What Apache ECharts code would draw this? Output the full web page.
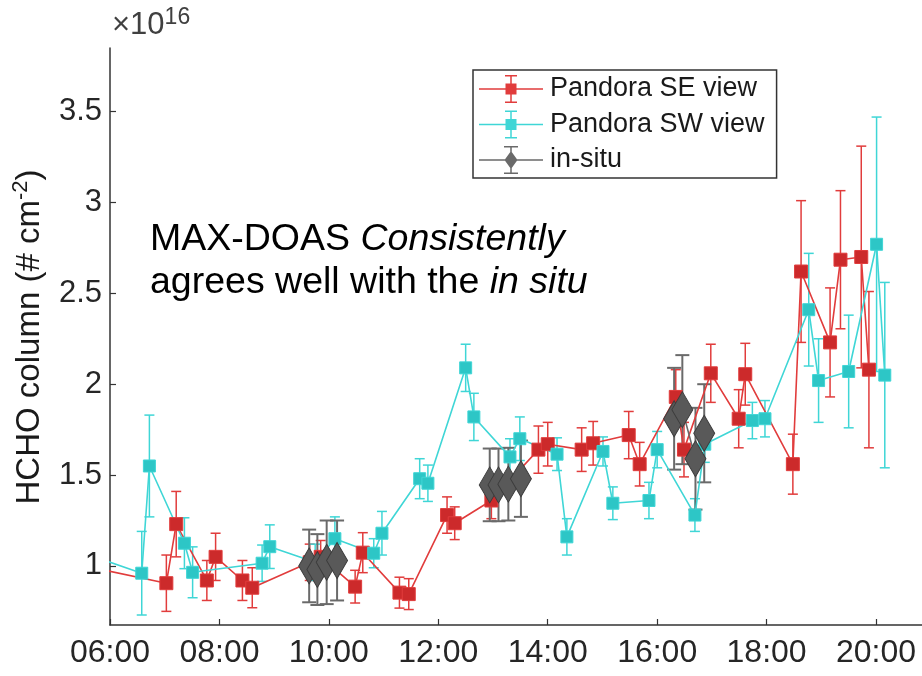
<!DOCTYPE html>
<html>
<head>
<meta charset="utf-8">
<title>HCHO column</title>
<script src="https://cdn.jsdelivr.net/npm/echarts@6/dist/echarts.min.js"></script>
<style>
  html, body { margin: 0; padding: 0; background: #fff; }
  #chart { width: 922px; height: 676px; }
</style>
</head>
<body>
<div id="chart"></div>
<script>
// time in decimal hours, HCHO column in 1e16 molec cm-2
const seTime  = [5.75, 7.03, 7.21, 7.77, 7.93, 8.42, 8.60, 9.65, 9.85, 10.48, 10.62, 11.29, 11.46, 12.16, 12.30, 12.97, 13.83, 14.00, 14.62, 14.83, 15.48, 15.68, 16.34, 16.49, 16.98, 17.49, 17.61, 18.48, 18.63, 19.16, 19.35, 19.73, 19.87];
const seValue = [0.986, 0.905, 1.23, 0.92, 1.05, 0.92, 0.88, 1.02, 1.05, 0.886, 1.073, 0.853, 0.845, 1.28, 1.235, 1.36, 1.64, 1.67, 1.64, 1.675, 1.72, 1.56, 1.93, 1.64, 2.06, 1.81, 2.055, 1.56, 2.62, 2.23, 2.685, 2.70, 2.08];
const seErr   = [0, 0.155, 0.18, 0.11, 0.13, 0.11, 0.11, 0.10, 0.09, 0.09, 0.11, 0.085, 0.085, 0.10, 0.09, 0.10, 0.13, 0.12, 0.12, 0.12, 0.13, 0.12, 0.15, 0.15, 0.16, 0.16, 0.17, 0.165, 0.39, 0.30, 0.38, 0.61, 0.43];

const swTime  = [5.75, 6.58, 6.72, 7.36, 7.51, 8.78, 8.92, 9.75, 10.11, 10.82, 10.97, 11.66, 11.81, 12.50, 12.65, 13.31, 13.49, 14.17, 14.35, 15.01, 15.19, 15.85, 16.00, 16.69, 16.87, 17.74, 17.97, 18.77, 18.95, 19.50, 20.01, 20.16];
const swValue = [1.046, 0.96, 1.55, 1.125, 0.965, 1.015, 1.106, 1.02, 1.15, 1.07, 1.18, 1.48, 1.455, 2.09, 1.82, 1.60, 1.70, 1.615, 1.16, 1.63, 1.345, 1.36, 1.64, 1.28, 1.67, 1.80, 1.81, 2.41, 2.02, 2.07, 2.77, 2.05];
const swErr   = [0, 0.23, 0.28, 0.14, 0.14, 0.10, 0.12, 0.10, 0.12, 0.08, 0.12, 0.11, 0.10, 0.13, 0.13, 0.10, 0.12, 0.09, 0.10, 0.08, 0.09, 0.10, 0.10, 0.09, 0.10, 0.10, 0.10, 0.31, 0.23, 0.31, 0.70, 0.51];

const insituTime  = [9.64, 9.79, 9.96, 10.15, 12.94, 13.10, 13.28, 13.51, 16.31, 16.46, 16.70, 16.86];
const insituValue = [1.00, 0.98, 1.02, 1.03, 1.446, 1.446, 1.45, 1.48, 1.81, 1.86, 1.59, 1.73];
const insituErr   = [0.20, 0.195, 0.23, 0.22, 0.20, 0.20, 0.20, 0.21, 0.28, 0.30, 0.28, 0.27];
const insituGroup = [0, 0, 0, 0, 1, 1, 1, 1, 2, 2, 2, 2];

const xTicks = [6, 8, 10, 12, 14, 16, 18, 20];
const yTicks = [1, 1.5, 2, 2.5, 3, 3.5];

const FONT = "'Liberation Sans', Arial, sans-serif";
const RED = '#e13c3c', RED_FILL = '#cc2a2b';
const CYAN = '#3fd6d6', CYAN_FILL = '#2dc6c6';
const GREY = '#6a6a6a', GREY_FILL = '#595959';

function pts(t, v) { return t.map((x, i) => [x, v[i]]); }
function errData(t, v, e) { return t.map((x, i) => [x, v[i] - e[i], v[i] + e[i]]); }

function errBars(name, t, v, e, color, cap, width) {
  return {
    type: 'custom', name: name, clip: true, silent: true,
    data: errData(t, v, e),
    encode: { x: 0, y: [1, 2] },
    renderItem: (params, api) => {
      const top = api.coord([api.value(0), api.value(2)]);
      const bot = api.coord([api.value(0), api.value(1)]);
      const st = { stroke: color, lineWidth: width };
      const h = cap / 2;
      return { type: 'group', children: [
        { type: 'line', shape: { x1: top[0], y1: top[1], x2: bot[0], y2: bot[1] }, style: st },
        { type: 'line', shape: { x1: top[0] - h, y1: top[1], x2: top[0] + h, y2: top[1] }, style: st },
        { type: 'line', shape: { x1: bot[0] - h, y1: bot[1], x2: bot[0] + h, y2: bot[1] }, style: st }
      ]};
    }
  };
}

// in-situ: break line between measurement groups
const insituData = [];
insituTime.forEach((t, i) => {
  if (i > 0 && insituGroup[i] !== insituGroup[i - 1]) insituData.push(['-', '-']);
  insituData.push([t, insituValue[i]]);
});

// legend icons: line + error bar + marker
const sqIcon = 'path://M0,13.25H64V14.75H0Z M31.25,0H32.75V28H31.25Z M26,0H38V1.5H26Z M26,26.5H38V28H26Z M26.5,8.5H37.5V19.5H26.5Z';
const dmIcon = 'path://M0,13.25H64V14.75H0Z M31.25,0H32.75V28H31.25Z M25,0H39V1.5H25Z M25,26.5H39V28H25Z M32,5L38.5,14L32,23L25.5,14Z';

const chart = echarts.init(document.getElementById('chart'));
chart.setOption({
  animation: false,
  textStyle: { fontFamily: FONT },
  grid: { left: 110, right: 0, top: 48, bottom: 51, outerBoundsMode: 'none' },
  xAxis: {
    type: 'value', min: 6, max: 20.84,
    axisLine: { lineStyle: { color: '#333', width: 1.5 } },
    axisTick: { inside: true, length: 6, customValues: xTicks, lineStyle: { color: '#333', width: 1.2 } },
    axisLabel: {
      customValues: xTicks, fontSize: 32, color: '#262626', margin: 12,
      formatter: v => String(Math.round(v)).padStart(2, '0') + ':00'
    },
    splitLine: { show: false }
  },
  yAxis: {
    type: 'value', min: 0.675, max: 3.85,
    axisLine: { show: true, lineStyle: { color: '#333', width: 1.5 } },
    axisTick: { show: true, inside: true, length: 6, customValues: yTicks, lineStyle: { color: '#333', width: 1.2 } },
    axisLabel: { customValues: yTicks, fontSize: 31, color: '#262626', margin: 8, formatter: v => String(v) },
    splitLine: { show: false }
  },
  legend: {
    orient: 'vertical', left: 473, top: 70,
    padding: [5, 12, 4, 6], itemGap: 7.5, itemWidth: 64, itemHeight: 28,
    borderColor: '#333', borderWidth: 1.5, backgroundColor: '#fff',
    textStyle: { fontSize: 27, color: '#1a1a1a', padding: [0, 0, 0, 2] },
    data: [
      { name: 'Pandora SE view', icon: sqIcon, itemStyle: { color: RED, borderWidth: 0 } },
      { name: 'Pandora SW view', icon: sqIcon, itemStyle: { color: CYAN, borderWidth: 0 } },
      { name: 'in-situ', icon: dmIcon, itemStyle: { color: GREY, borderWidth: 0 } }
    ]
  },
  graphic: [
    {
      type: 'text', x: 112, y: 6,
      style: {
        text: '{b|×10}{s|16}',
        rich: {
          b: { fontSize: 31, fontFamily: FONT, lineHeight: 38, fill: '#404040' },
          s: { fontSize: 23, fontFamily: FONT, lineHeight: 24, verticalAlign: 'top', fill: '#404040' }
        }
      }
    },
    {
      type: 'text', x: 30, y: 337, rotation: Math.PI / 2,
      style: {
        text: '{b|HCHO column (# cm}{s|-2}{b|)}', align: 'center', verticalAlign: 'middle',
        rich: {
          b: { fontSize: 33, fontFamily: FONT, lineHeight: 40, fill: '#1a1a1a' },
          s: { fontSize: 22, fontFamily: FONT, lineHeight: 24, verticalAlign: 'top', fill: '#1a1a1a' }
        }
      }
    },
    {
      type: 'text', x: 150, y: 218,
      style: {
        text: '{a|MAX-DOAS }{i|Consistently}\n{a|agrees well with the }{i|in situ}',
        rich: {
          a: { fontSize: 37.5, fontFamily: FONT, lineHeight: 43, fill: '#000' },
          i: { fontSize: 37.5, fontFamily: FONT, fontStyle: 'italic', lineHeight: 43, fill: '#000' }
        }
      }
    }
  ],
  series: [
    errBars('seErr', seTime, seValue, seErr, RED, 10, 1.5),
    {
      type: 'line', name: 'Pandora SE view', data: pts(seTime, seValue), clip: true,
      symbol: 'rect', symbolSize: 13,
      lineStyle: { color: RED, width: 1.6 },
      itemStyle: { color: RED_FILL, borderColor: RED, borderWidth: 1 }
    },
    errBars('swErr', swTime, swValue, swErr, CYAN, 10, 1.5),
    {
      type: 'line', name: 'Pandora SW view', data: pts(swTime, swValue), clip: true,
      symbol: 'rect', symbolSize: 12,
      lineStyle: { color: CYAN, width: 1.6 },
      itemStyle: { color: CYAN_FILL, borderColor: CYAN, borderWidth: 1 }
    },
    errBars('insituErr', insituTime, insituValue, insituErr, GREY, 14, 2),
    {
      type: 'line', name: 'in-situ', data: insituData, clip: true, connectNulls: false,
      symbol: 'diamond', symbolSize: [21, 36],
      lineStyle: { color: GREY, width: 1.6 },
      itemStyle: { color: GREY_FILL, borderColor: '#3c3c3c', borderWidth: 1 }
    }
  ]
});
</script>
</body>
</html>
